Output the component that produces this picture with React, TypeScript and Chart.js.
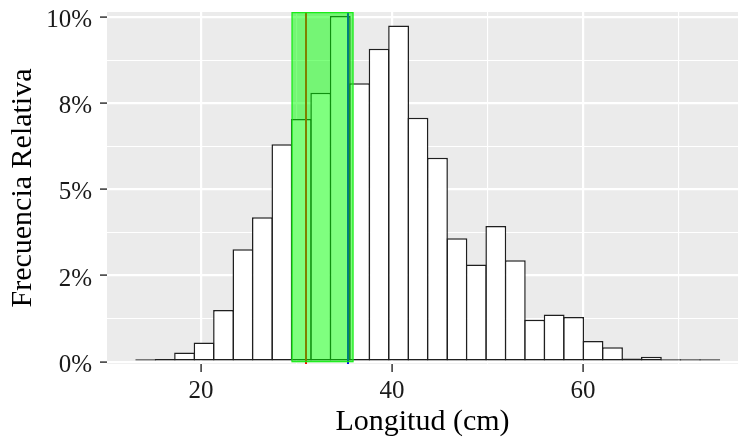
import React, { useEffect, useRef } from 'react';
import { Chart, registerables } from 'chart.js';

Chart.register(...registerables);

// Histogram bin centres (cm) and relative frequency (%)
const binCenters = [
  14.21, 16.25, 18.28, 20.32, 22.36, 24.39, 26.43, 28.47, 30.5, 32.54,
  34.58, 36.61, 38.65, 40.69, 42.72, 44.76, 46.8, 48.83, 50.87, 52.91,
  54.94, 56.98, 59.02, 61.05, 63.09, 65.13, 67.16, 69.2, 71.24, 73.27,
];
const relFreq = [
  0.02, 0.08, 0.27, 0.56, 1.5, 3.26, 4.19, 6.31, 7.04, 7.8,
  10.03, 8.08, 9.08, 9.75, 7.08, 5.92, 3.58, 2.82, 3.94, 2.94,
  1.22, 1.37, 1.3, 0.6, 0.42, 0.09, 0.14, 0.06, 0.03, 0.03,
];

const yTickValues = [0, 1.25, 2.5, 3.75, 5, 6.25, 7.5, 8.75, 10];
const yTickLabels = ['0%', '', '2%', '', '5%', '', '8%', '', '10%'];
const xTickValues = [20, 30, 40, 50, 60, 70];
const xTickLabels = ['20', '', '40', '', '60', ''];

const highlightRange = [29.53, 35.92];
const redLineX = 31.0;
const blueLineX = 35.35;

const FONT = "'Liberation Serif', 'Times New Roman', serif";

const panelPlugin = {
  id: 'panel',
  beforeDraw(chart: any) {
    const { ctx, chartArea } = chart;
    ctx.save();
    ctx.fillStyle = '#EBEBEB';
    ctx.fillRect(chartArea.left, chartArea.top, chartArea.right - chartArea.left, chartArea.bottom - chartArea.top);
    ctx.restore();
  },
  afterDatasetsDraw(chart: any) {
    const { ctx, chartArea, scales } = chart;
    const xs = scales.x;
    const ys = scales.y;
    ctx.save();
    ctx.beginPath();
    ctx.rect(chartArea.left, chartArea.top, chartArea.right - chartArea.left, chartArea.bottom - chartArea.top);
    ctx.clip();
    const vline = (v: number, color: string) => {
      const px = Math.round(xs.getPixelForValue(v));
      ctx.beginPath();
      ctx.strokeStyle = color;
      ctx.lineWidth = 2;
      ctx.moveTo(px, chartArea.top);
      ctx.lineTo(px, chartArea.bottom);
      ctx.stroke();
    };
    vline(redLineX, '#FF0000');
    vline(blueLineX, '#0000FF');
    const x1 = xs.getPixelForValue(highlightRange[0]);
    const x2 = xs.getPixelForValue(highlightRange[1]);
    const y0 = ys.getPixelForValue(0);
    const yTop = chartArea.top;
    ctx.fillStyle = 'rgba(0,255,0,0.5)';
    ctx.fillRect(x1, yTop, x2 - x1, y0 - yTop);
    ctx.strokeStyle = 'rgba(20,235,20,0.95)';
    ctx.lineWidth = 1.3;
    ctx.strokeRect(x1, yTop + 0.6, x2 - x1, y0 - yTop - 0.6);
    ctx.restore();
  },
};

export default function App() {
  const ref = useRef<HTMLCanvasElement | null>(null);
  useEffect(() => {
    if (!ref.current) return;
    const chart = new Chart(ref.current, {
      type: 'bar',
      data: {
        datasets: [
          {
            data: binCenters.map((x, i) => ({ x, y: relFreq[i] })),
            backgroundColor: '#FFFFFF',
            borderColor: '#1f1f1f',
            borderWidth: 1.5,
            borderSkipped: false,
            minBarLength: 2.5,
            barPercentage: 1.075,
            categoryPercentage: 1,
            grouped: false,
          } as any,
        ],
      },
      options: {
        animation: false,
        responsive: false,
        devicePixelRatio: 1,
        layout: { padding: { top: 12, right: 0, left: 0, bottom: 0 } },
        plugins: { legend: { display: false }, tooltip: { enabled: false } },
        scales: {
          x: {
            type: 'linear',
            min: 10.157,
            max: 76.23,
            offset: false,
            afterBuildTicks: (s: any) => {
              s.ticks = xTickValues.map((v) => ({ value: v }));
            },
            afterFit: (s: any) => {
              s.height = 73;
            },
            border: { display: false },
            grid: {
              offset: false,
              color: '#FFFFFF',
              lineWidth: (c: any) => (c.tick && c.tick.value % 20 === 0 ? 2.2 : 1.1),
              drawTicks: true,
              tickLength: 8,
              tickWidth: 1.5,
              tickColor: (c: any) => (c.tick && c.tick.value % 20 === 0 ? '#333333' : 'rgba(0,0,0,0)'),
            },
            ticks: {
              autoSkip: false,
              maxRotation: 0,
              padding: 4,
              color: '#1a1a1a',
              font: { family: FONT, size: 25 },
              callback: (_v: any, i: number) => xTickLabels[i],
            },
            title: {
              display: true,
              text: 'Longitud (cm)',
              color: '#000000',
              font: { family: FONT, size: 30, lineHeight: 1 },
              padding: { top: 0, bottom: 0 },
            },
          },
          y: {
            type: 'linear',
            min: -0.067,
            max: 10.145,
            afterBuildTicks: (s: any) => {
              s.ticks = yTickValues.map((v) => ({ value: v }));
            },
            afterFit: (s: any) => {
              s.width = 107;
              s.paddingTop = 0;
              s.paddingBottom = 0;
            },
            border: { display: false },
            grid: {
              color: '#FFFFFF',
              lineWidth: (c: any) => (c.tick && c.tick.value % 2.5 === 0 ? 2.2 : 1.1),
              drawTicks: true,
              tickLength: 7,
              tickWidth: 1.5,
              tickColor: (c: any) => (c.tick && c.tick.value % 2.5 === 0 ? '#333333' : 'rgba(0,0,0,0)'),
            },
            ticks: {
              autoSkip: false,
              padding: 8,
              labelOffset: 3.5,
              color: '#1a1a1a',
              font: { family: FONT, size: 25, lineHeight: 0.5 },
              callback: (_v: any, i: number) => yTickLabels[i],
            },
            title: {
              display: true,
              text: 'Frecuencia Relativa',
              color: '#000000',
              font: { family: FONT, size: 30, lineHeight: 1 },
              padding: { top: 8, bottom: 0 },
            },
          },
        },
      } as any,
      plugins: [panelPlugin],
    });
    return () => chart.destroy();
  }, []);

  return (
    <div style={{ position: 'absolute', left: 0, top: 0, width: 738, height: 437, background: '#fff' }}>
      <canvas ref={ref} width={738} height={437} style={{ display: 'block' }} />
    </div>
  );
}
